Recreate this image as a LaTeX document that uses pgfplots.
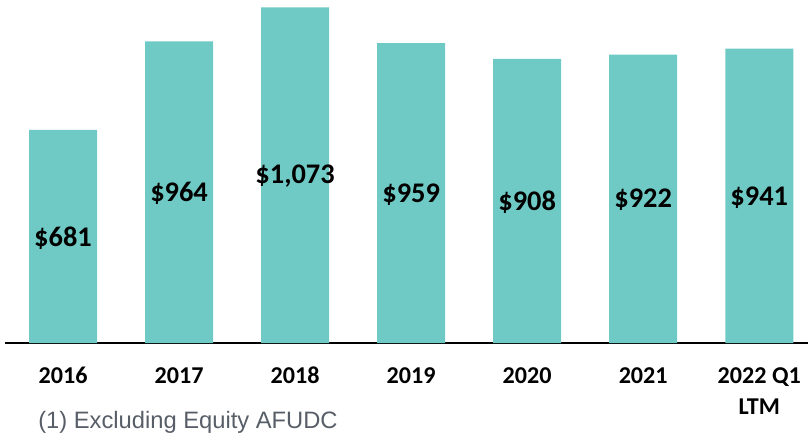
\documentclass[border=0pt]{standalone}
\usepackage{fontspec}
\setmainfont{Carlito}
\newfontfamily\arialfont{Liberation Sans}
\usepackage{pgfplots}
\pgfplotsset{compat=1.18}
\usepackage{pgfplotstable}
\definecolor{barteal}{HTML}{6FCAC5}
\definecolor{notegray}{HTML}{585E68}
\pgfplotstableread{
x y
0 681
1 964
2 1073
3 959
4 908
5 922
6 941
}\bardata
\pgfplotstableread{
x y label
0 336 \$681
1 478 \$964
2 532 \$1,073
3 475 \$959
4 450 \$908
5 457 \$922
6 466 \$941
}\labeldata
\begin{document}
\begin{tikzpicture}
\useasboundingbox (0pt,0pt) rectangle (606pt,333pt);
\begin{axis}[
  at={(3.75pt,75.75pt)}, anchor=south west,
  scale only axis, width=602.25pt, height=257.25pt,
  xmin=-0.5, xmax=6.42, ymin=0, ymax=1096.5,
  enlargelimits=false,
  axis x line=bottom, axis y line=none,
  axis line style={draw=black, line width=1.5pt, -},
  xtick={0,...,6},
  xticklabels={\strut 2016,\strut 2017,\strut 2018,\strut 2019,\strut 2020,\strut 2021,{\strut 2022 Q1\\\strut LTM}},
  major tick length=0pt,
  ytick=\empty,
  xticklabel style={inner sep=0pt, anchor=north, yshift=-13.9pt, align=center,
    font=\fontsize{18.1pt}{23.25pt}\selectfont\bfseries},
  clip=false,
]
\addplot[ybar, bar width=51pt, bar shift=0pt, fill=barteal, draw=none] table[x=x,y=y] {\bardata};
\addplot[draw=none, mark=none, nodes near coords, point meta=explicit symbolic,
  every node near coord/.style={anchor=center, inner sep=0pt, text=black,
    font=\fontsize{21.3pt}{25pt}\selectfont\bfseries}]
  table[x=x,y=y,meta=label] {\labeldata};
\end{axis}
\node[anchor=west, inner sep=0pt, text=notegray, font=\arialfont\fontsize{17.8pt}{21pt}\selectfont] at (28.5pt,16.5pt) {(1) Excluding Equity AFUDC};
\end{tikzpicture}
\end{document}
